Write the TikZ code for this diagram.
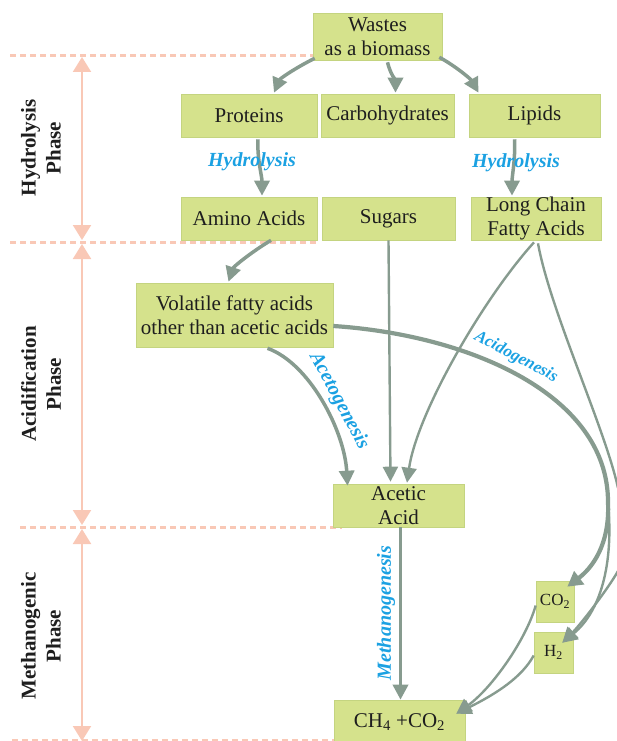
\documentclass[tikz,border=0pt]{standalone}
\usepackage{fontspec}
\setmainfont{Liberation Serif}
\usetikzlibrary{arrows.meta,calc}
\definecolor{boxfill}{RGB}{213,226,140}
\definecolor{boxline}{RGB}{196,212,128}
\definecolor{arrowc}{RGB}{135,155,143}
\definecolor{labelc}{RGB}{27,161,226}
\definecolor{phasec}{RGB}{249,200,182}
\definecolor{txt}{RGB}{30,30,30}
\begin{document}
\begin{tikzpicture}[x=1pt,y=-1pt,
  box/.style={fill=boxfill,draw=boxline,line width=0.6pt,text=txt,align=center,inner sep=0pt,
    font=\fontsize{21}{24}\selectfont},
  smallbox/.style={box,font=\fontsize{17}{19}\selectfont},
  flow/.style={draw=arrowc,line width=3.5pt,-{Triangle[length=15pt,width=15pt]}},
  thinflow/.style={draw=arrowc,line width=2.4pt,-{Triangle[length=15pt,width=15pt]}},
  thinline/.style={draw=arrowc,line width=2.4pt},
  thickflow/.style={draw=arrowc,line width=4.2pt,-{Triangle[length=15pt,width=16pt]}},
  lbl/.style={text=labelc,font=\fontsize{20}{24}\selectfont\bfseries\itshape,inner sep=0pt},
  slbl/.style={text=labelc,font=\fontsize{17}{20}\selectfont\bfseries\itshape,inner sep=0pt},
  phase/.style={text=txt,font=\fontsize{21}{25}\selectfont\bfseries,align=center,rotate=90},
  dashl/.style={draw=phasec,line width=3pt,dash pattern=on 6pt off 4pt},
  parrow/.style={draw=phasec,line width=2.2pt,{Triangle[length=15pt,width=18pt]}-{Triangle[length=15pt,width=18pt]}}
]
\useasboundingbox (0,0) rectangle (617,741);

% phase guides
\coordinate (d1a) at (10,56);  \coordinate (d1b) at (313,56);
\coordinate (d2a) at (10,242); \coordinate (d2b) at (316,242);
\coordinate (d3a) at (20,527); \coordinate (d3b) at (342,527);
\coordinate (d4a) at (12,740); \coordinate (d4b) at (336,740);
\draw[dashl] (d1a) -- (d1b);
\draw[dashl] (d2a) -- (d2b);
\draw[dashl] (d3a) -- (d3b);
\draw[dashl] (d4a) -- (d4b);
\coordinate (p1) at (82,57);  \coordinate (p2) at (82,240);
\coordinate (p3) at (82,244); \coordinate (p4) at (82,525);
\coordinate (p5) at (82,529); \coordinate (p6) at (82,741);
\draw[parrow] (p1) -- (p2);
\draw[parrow] (p3) -- (p4);
\draw[parrow] (p5) -- (p6);
\node[phase] (ph1) at (41,148) {Hydrolysis\\Phase};
\node[phase] (ph2) at (41,384) {Acidification\\Phase};
\node[phase] (ph3) at (41,636) {Methanogenic\\Phase};

% boxes
\node[box,minimum width=129pt,minimum height=47pt] (wastes) at (377.5,36.5) {Wastes\\as a biomass};
\node[box,minimum width=136pt,minimum height=43pt] (proteins) at (249,115.5) {Proteins};
\node[box,minimum width=133pt,minimum height=43pt] (carbo) at (387.5,115.5) {Carbohydrates};
\node[box,minimum width=131pt,minimum height=43pt] (lipids) at (534.5,115.5) {Lipids};
\node[box,minimum width=136pt,minimum height=43pt] (amino) at (249,218.5) {Amino Acids};
\node[box,minimum width=133pt,minimum height=43pt] (sugars) at (388.5,218.5) {Sugars};
\node[box,minimum width=130pt,minimum height=43pt] (lcfa) at (536,218.5) {Long Chain\\Fatty Acids};
\node[box,minimum width=197pt,minimum height=64pt] (vfa) at (234.5,315) {Volatile fatty acids\\other than acetic acids};
\node[box,minimum width=131pt,minimum height=43pt] (acetic) at (398.5,505.5) {Acetic\\Acid};
\node[box,minimum width=131pt,minimum height=44pt] (ch4) at (399.5,722) {CH\textsubscript{4} +CO\textsubscript{2}};
\node[smallbox,minimum width=38pt,minimum height=41pt] (co2) at (555,601.5) {CO\textsubscript{2}};
\node[smallbox,minimum width=39pt,minimum height=41pt] (h2) at (553.5,652.5) {H\textsubscript{2}};

% hydrolysis
\draw[flow] ($(wastes.south west)+(2,-2)$) .. controls +(-20,10) and +(6,-14) .. ($(proteins.north)+(25,-1)$);
\draw[flow] ($(wastes.south)+(10,2)$) .. controls +(3,12) and +(0,-12) .. ($(carbo.north)+(8,-1)$);
\draw[flow] ($(wastes.south east)+(-3,-3)$) .. controls +(15,8) and +(-8,-14) .. ($(lipids.north)+(-56,-1)$);
\draw[flow] ($(proteins.south)+(9,2)$) .. controls +(-1,20) and +(0,-20) .. ($(amino.north)+(13,-1)$);
\draw[flow] ($(lipids.south)+(-20,2)$) .. controls +(1,20) and +(0,-20) .. ($(lcfa.north)+(-24,-1)$);
\node[lbl] (hy1) at (252,162) {Hydrolysis};
\node[lbl] (hy2) at (516,163) {Hydrolysis};

% acidification
\draw[flow] ($(amino.south)+(22,0)$) .. controls +(-20,12) and +(5,-15) .. ($(vfa.north)+(-6,-1)$);
\draw[thinflow] (sugars.south) -- ($(acetic.north)+(-8,-2)$);
\draw[thinflow] ($(lcfa.south)+(-2,2)$) .. controls +(-50,55) and +(10,-70) .. ($(acetic.north)+(8.5,-1)$);
\draw[flow] ($(vfa.south)+(33,1)$) .. controls +(42,15) and +(-3,-55) .. ($(acetic.north)+(-51,2)$);
\node[lbl,rotate=-62] (aceto) at (339,401) {Acetogenesis};

% acidogenesis to CO2 / H2
\coordinate (split) at (608,502);
\draw[thickflow] ($(vfa.east)+(0,11)$) .. controls (470,335) and (608,395) .. (split)
   .. controls (610,545) and (592,568) .. ($(co2.north east)+(-7,6)$);
\draw[thinflow] (split) .. controls (614,565) and (600,612) .. ($(h2.north east)+(-11,11)$);
\coordinate (edge1) at (618,488);
\coordinate (edge2) at (618,571);
\draw[thinline] ($(lcfa.south)+(2,3)$) .. controls +(12,67) and +(-13,-60) .. (edge1);
\draw[thinflow] (edge2) .. controls +(-10,18) and +(18,-18) .. ($(h2.north east)+(-11,11)$);
\node[slbl,rotate=-28] (acido) at (516,357) {Acidogenesis};

% methanogenesis
\draw[flow] ($(acetic.south)+(2,0)$) -- ($(ch4.north)+(1,0)$);
\node[lbl,rotate=90] (metha) at (386,613) {Methanogenesis};
\draw[thinflow] ($(co2.west)+(0,4)$) .. controls +(-10,35) and +(35,-25) .. ($(ch4.north east)+(-9,14)$);
\draw[thinflow] ($(h2.west)+(0,3)$) .. controls +(-12,22) and +(40,-20) .. ($(ch4.north east)+(-9,14)$);
\end{tikzpicture}
\end{document}
